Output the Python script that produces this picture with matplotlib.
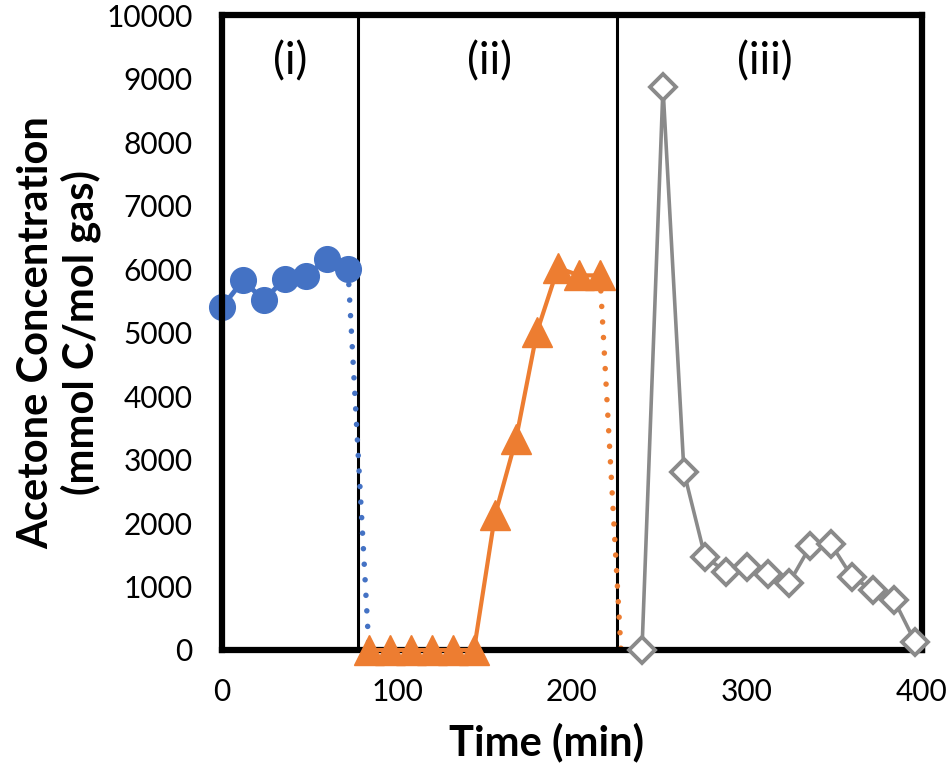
import matplotlib
matplotlib.use("Agg")
import matplotlib.pyplot as plt

plt.rcParams['font.family'] = ['Lato', 'DejaVu Sans']

# phase (i)
time_i = [0, 12, 24, 36, 48, 60, 72]
conc_i = [5400, 5820, 5510, 5850, 5890, 6160, 6000]
drop_i_time = [72, 84]
drop_i_conc = [6000, 0]

# phase (ii)
time_ii = [84, 96, 108, 120, 132, 144, 156, 168, 180, 192, 204, 216]
conc_ii = [0, 0, 0, 0, 0, 0, 2120, 3320, 5010, 6020, 5900, 5900]
drop_ii_time = [216, 228]
drop_ii_conc = [5900, 0]

# phase (iii)
time_iii = [240, 252, 264, 276, 288, 300, 312, 324, 336, 348, 360, 372, 384, 396]
conc_iii = [0, 8860, 2800, 1470, 1230, 1310, 1200, 1050, 1630, 1670, 1150, 940, 790, 130]

phase_bounds = [78, 226]
phase_labels = ['(i)', '(ii)', '(iii)']
phase_label_x = [39, 153, 310]

blue = '#4472C4'
orange = '#ED7D31'
gray = '#8A8A8A'
dots = (0, (0.001, 2.8))

fig = plt.figure(figsize=(9.51, 7.79), dpi=100)
ax = fig.add_axes([0.2334, 0.1656, 0.9695 - 0.2334, 0.9807 - 0.1656])

for b in phase_bounds:
    ax.axvline(b, color='black', lw=2.2, zorder=2)

ax.plot(drop_i_time, drop_i_conc, color=blue, lw=4, ls=dots,
        dash_capstyle='round', zorder=3, clip_on=False)
ax.plot(time_i, conc_i, color=blue, lw=3.5, marker='o', ms=18.5,
        zorder=4, clip_on=False)

ax.plot(drop_ii_time, drop_ii_conc, color=orange, lw=4, ls=dots,
        dash_capstyle='round', zorder=3, clip_on=False)
ax.plot(time_ii, conc_ii, color=orange, lw=3, marker='^', ms=21,
        zorder=6, clip_on=False)

ax.plot(time_iii, conc_iii, color=gray, lw=2.6, marker='D', ms=13,
        mfc='white', mec=gray, mew=2.8, zorder=6, clip_on=False)

for lab, x in zip(phase_labels, phase_label_x):
    ax.text(x, 9270, lab, ha='center', va='center', fontsize=32)

ax.set_xlim(0, 400)
ax.set_ylim(0, 10000)
ax.set_xticks(range(0, 401, 100))
ax.set_yticks(range(0, 10001, 1000))
ax.tick_params(length=0, labelsize=21.5)
ax.tick_params(axis='y', pad=21)
ax.tick_params(axis='x', pad=20)
for sp in ax.spines.values():
    sp.set_linewidth(4.5)
    sp.set_zorder(5)

ax.set_xlabel('Time (min)', fontsize=30, fontweight='bold', labelpad=12,
              x=0.463)
ax.set_ylabel('Acetone Concentration\n(mmol C/mol gas)', fontsize=30,
              fontweight='bold', labelpad=4, linespacing=1.15)

fig.savefig('out.png', dpi=100)
